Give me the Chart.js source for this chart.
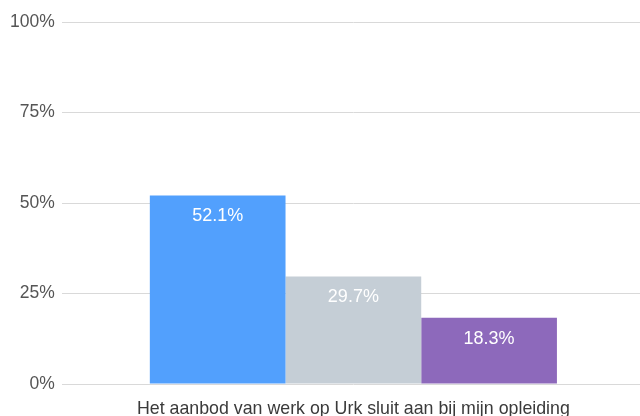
<!DOCTYPE html>
<html>
<head>
<meta charset="utf-8">
<script src="https://cdn.jsdelivr.net/npm/chart.js@4"></script>
<style>
  html, body { margin: 0; padding: 0; background: #fff; overflow: hidden; }
  #wrap { width: 646px; height: 416px; }
</style>
</head>
<body>
<div id="wrap"><canvas id="chartWerk"></canvas></div>
<script>
var categories = ['Het aanbod van werk op Urk sluit aan bij mijn opleiding'];
var seriesNames = ['Eens', 'Neutraal', 'Oneens'];
var seriesValues = [[52.1], [29.7], [18.3]];
var seriesColors = ['#52a0fd', '#c5ced6', '#8d69bb'];
var yTicks = [0, 25, 50, 75, 100];

// labels in de balken
var barLabels = {
    id: 'barLabels',
    afterDatasetsDraw: function(chart) {
        var ctx = chart.ctx;
        ctx.save();
        ctx.font = '18px "Liberation Sans", Arial, sans-serif';
        ctx.fillStyle = '#ffffff';
        ctx.textAlign = 'center';
        ctx.textBaseline = 'middle';
        chart.data.datasets.forEach(function(ds, i) {
            chart.getDatasetMeta(i).data.forEach(function(bar, j) {
                ctx.fillText(ds.data[j].toFixed(1) + '%', bar.x, bar.y + 21);
            });
        });
        ctx.restore();
    }
};

var datasets = [];
for (var i = 0; i < seriesNames.length; i++) {
    datasets.push({
        label: seriesNames[i],
        data: seriesValues[i],
        backgroundColor: seriesColors[i],
        barPercentage: 1,
        categoryPercentage: 0.698
    });
}

var ctx = document.getElementById('chartWerk');
var chartWerk = new Chart(ctx, {
    type: 'bar',
    data: {
        labels: categories,
        datasets: datasets
    },
    options: {
        responsive: true,
        maintainAspectRatio: false,
        animation: false,
        layout: { padding: { top: 22, left: 3, right: 1, bottom: 0 } },
        plugins: {
            legend: { display: false },
            tooltip: { enabled: false }
        },
        scales: {
            x: {
                grid: { display: false },
                border: { display: false },
                afterFit: function(axis) { axis.height = 32; },
                ticks: {
                    color: '#3a3a3a',
                    maxRotation: 0,
                    font: { family: '"Liberation Sans", Arial, sans-serif', size: 17.8, lineHeight: 1 },
                    padding: 8
                }
            },
            y: {
                min: 0,
                max: 100,
                afterBuildTicks: function(axis) {
                    axis.ticks = yTicks.map(function(v) { return { value: v }; });
                },
                border: { display: false },
                grid: { color: '#d9d9d9', drawTicks: false, lineWidth: 1 },
                ticks: {
                    color: '#555555',
                    font: { family: '"Liberation Sans", Arial, sans-serif', size: 17.5 },
                    padding: 7,
                    callback: function(v) { return v + '%'; }
                }
            }
        }
    },
    plugins: [barLabels]
});
</script>
</body>
</html>
